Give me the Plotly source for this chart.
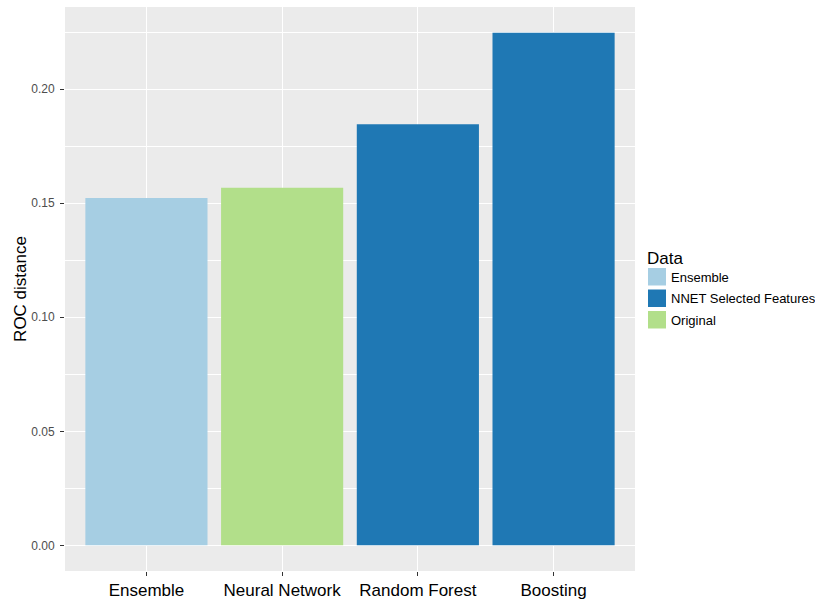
import plotly.graph_objects as go

# Model comparison: ROC distance by model and data source
models = ["Ensemble", "Neural Network", "Random Forest", "Boosting"]
roc_distance = [0.1523, 0.1568, 0.1846, 0.2248]
data_source = ["Ensemble", "Original", "NNET Selected Features", "NNET Selected Features"]

legend_order = ["Ensemble", "NNET Selected Features", "Original"]
palette = {
    "Ensemble": "#A6CEE3",
    "NNET Selected Features": "#1F78B4",
    "Original": "#B2DF8A",
}

y_ticks = [0.00, 0.05, 0.10, 0.15, 0.20]
y_tick_text = ["0.00", "0.05", "0.10", "0.15", "0.20"]

fig = go.Figure()
for src in legend_order:
    xs = [m for m, s in zip(models, data_source) if s == src]
    ys = [v for v, s in zip(roc_distance, data_source) if s == src]
    fig.add_trace(go.Bar(
        x=xs, y=ys, name=src, width=0.9,
        marker=dict(color=palette[src], line=dict(width=0)),
        showlegend=False,
    ))

ymax = max(roc_distance)
pad = ymax * 0.05

ML, MR, MT, MB = 65, 180, 7, 29
W, H = 815, 600

fig.update_layout(
    width=W, height=H,
    margin=dict(l=ML, r=MR, t=MT, b=MB),
    paper_bgcolor="white",
    plot_bgcolor="#EBEBEB",
    barmode="overlay",
    font=dict(family="Liberation Sans, Arial, sans-serif"),
    xaxis=dict(
        categoryorder="array", categoryarray=models,
        range=[-0.6, len(models) - 0.4],
        automargin=False,
        showgrid=True, gridcolor="white", gridwidth=1.2,
        ticks="outside", ticklen=4, tickcolor="#333333", tickwidth=1,
        ticklabelstandoff=0,
        tickfont=dict(size=17, color="black"),
        zeroline=False, showline=False,
    ),
    yaxis=dict(
        range=[-pad, ymax + pad],
        automargin=False,
        tickvals=y_ticks, ticktext=y_tick_text,
        showgrid=True, gridcolor="white", gridwidth=1.2,
        minor=dict(dtick=0.025, tick0=0, showgrid=True,
                   gridcolor="white", gridwidth=0.5),
        ticks="outside", ticklen=4, tickcolor="#333333", tickwidth=1,
        ticklabelstandoff=3,
        tickfont=dict(size=12, color="#4D4D4D"),
        title=dict(text="ROC distance", font=dict(size=17, color="black"), standoff=0),
        zeroline=False, showline=False,
    ),
)

# Legend drawn beside the panel
PW = W - ML - MR
PH = H - MT - MB

def px_x(px):
    return (px - ML) / PW

def px_y(py):
    return (H - MB - py) / PH

fig.add_annotation(
    xref="paper", yref="paper", x=px_x(645), y=px_y(258),
    text="Data", showarrow=False, xanchor="left", yanchor="middle",
    font=dict(size=17, color="black"),
)
key_tops = [268, 289.5, 311]
for src, top in zip(legend_order, key_tops):
    fig.add_shape(
        type="rect", xref="paper", yref="paper",
        x0=px_x(648), x1=px_x(666), y0=px_y(top + 17.5), y1=px_y(top),
        fillcolor=palette[src], line=dict(width=0),
    )
    fig.add_annotation(
        xref="paper", yref="paper", x=px_x(669), y=px_y(top + 9),
        text=src, showarrow=False, xanchor="left", yanchor="middle",
        font=dict(size=13, color="black"),
    )

fig.write_html("out.html")
